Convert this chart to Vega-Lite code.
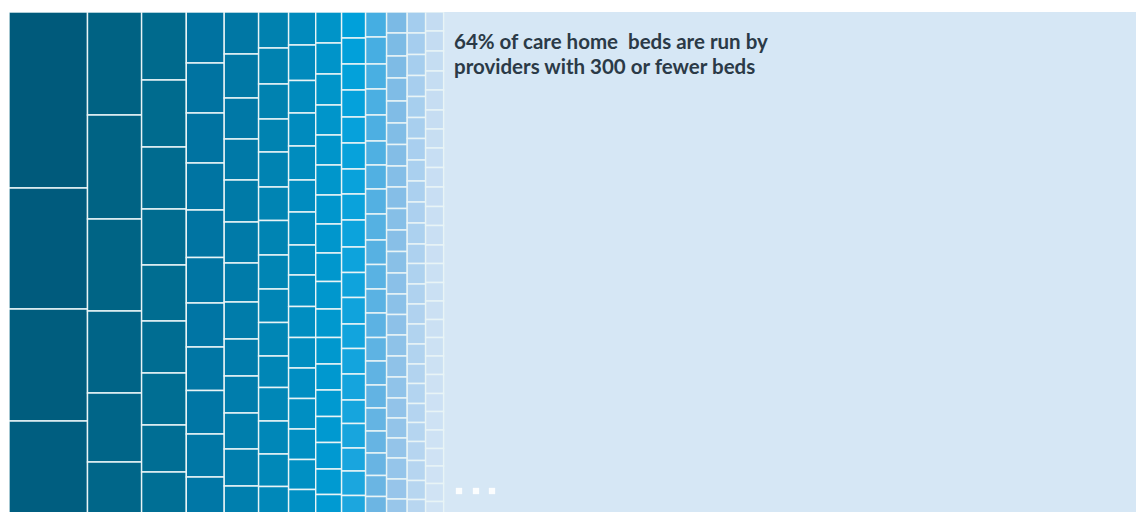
{
  "$schema": "https://vega.github.io/schema/vega-lite/v6.json",
  "width": 1136,
  "height": 512,
  "autosize": {"type": "fit", "contains": "padding"},
  "padding": {"left": 9, "top": 12, "right": 0, "bottom": 0},
  "background": "#ffffff",
  "config": {"view": {"stroke": null, "fill": "#d6e7f5"}},
  "datasets": {
    "cols": [
      {"c": 1, "x0": 0, "x1": 78.5},
      {"c": 2, "x0": 78.5, "x1": 132.6},
      {"c": 3, "x0": 132.6, "x1": 177.3},
      {"c": 4, "x0": 177.3, "x1": 215.2},
      {"c": 5, "x0": 215.2, "x1": 249.6},
      {"c": 6, "x0": 249.6, "x1": 279.6},
      {"c": 7, "x0": 279.6, "x1": 306.7},
      {"c": 8, "x0": 306.7, "x1": 332.6},
      {"c": 9, "x0": 332.6, "x1": 356.6},
      {"c": 10, "x0": 356.6, "x1": 377.6},
      {"c": 11, "x0": 377.6, "x1": 398.2},
      {"c": 12, "x0": 398.2, "x1": 416.6},
      {"c": 13, "x0": 416.6, "x1": 434.6}
    ],
    "cells": [
      {"r":1,"c":1,"h":176},{"r":2,"c":1,"h":121},{"r":3,"c":1,"h":112},{"r":4,"c":1,"h":100},
      {"r":5,"c":2,"h":103},{"r":6,"c":2,"h":104},{"r":7,"c":2,"h":92},{"r":8,"c":2,"h":82},{"r":9,"c":2,"h":69},{"r":10,"c":2,"h":60},
      {"r":11,"c":3,"h":68},{"r":12,"c":3,"h":67},{"r":13,"c":3,"h":62},{"r":14,"c":3,"h":56},{"r":15,"c":3,"h":56},{"r":16,"c":3,"h":52},{"r":17,"c":3,"h":52},{"r":18,"c":3,"h":47},{"r":19,"c":3,"h":45},
      {"r":20,"c":4,"h":51},{"r":21,"c":4,"h":50},{"r":22,"c":4,"h":50},{"r":23,"c":4,"h":47},{"r":24,"c":4,"h":47.5},{"r":25,"c":4,"h":45.5},{"r":26,"c":4,"h":44},{"r":27,"c":4,"h":43.5},{"r":28,"c":4,"h":43.5},{"r":29,"c":4,"h":43},{"r":30,"c":4,"h":42},
      {"r":31,"c":5,"h":42},{"r":32,"c":5,"h":44},{"r":33,"c":5,"h":41},{"r":34,"c":5,"h":41},{"r":35,"c":5,"h":42},{"r":36,"c":5,"h":41},{"r":37,"c":5,"h":39},{"r":38,"c":5,"h":37},{"r":39,"c":5,"h":37},{"r":40,"c":5,"h":37},{"r":41,"c":5,"h":36},{"r":42,"c":5,"h":37},{"r":43,"c":5,"h":36},
      {"r":44,"c":6,"h":36},{"r":45,"c":6,"h":36},{"r":46,"c":6,"h":35},{"r":47,"c":6,"h":33},{"r":48,"c":6,"h":35},{"r":49,"c":6,"h":33.5},{"r":50,"c":6,"h":34.5},{"r":51,"c":6,"h":34},{"r":52,"c":6,"h":33.5},{"r":53,"c":6,"h":33.5},{"r":54,"c":6,"h":31.5},{"r":55,"c":6,"h":33.5},{"r":56,"c":6,"h":33},{"r":57,"c":6,"h":32.5},{"r":58,"c":6,"h":32},
      {"r":59,"c":7,"h":33},{"r":60,"c":7,"h":35.5},{"r":61,"c":7,"h":32.5},{"r":62,"c":7,"h":33},{"r":63,"c":7,"h":34},{"r":64,"c":7,"h":32},{"r":65,"c":7,"h":33},{"r":66,"c":7,"h":30},{"r":67,"c":7,"h":31.5},{"r":68,"c":7,"h":31},{"r":69,"c":7,"h":30.5},{"r":70,"c":7,"h":30.5},{"r":71,"c":7,"h":30.5},{"r":72,"c":7,"h":30.5},{"r":73,"c":7,"h":30},{"r":74,"c":7,"h":30},
      {"r":75,"c":8,"h":31},{"r":76,"c":8,"h":31},{"r":77,"c":8,"h":31},{"r":78,"c":8,"h":30},{"r":79,"c":8,"h":30},{"r":80,"c":8,"h":30},{"r":81,"c":8,"h":29},{"r":82,"c":8,"h":29},{"r":83,"c":8,"h":28.5},{"r":84,"c":8,"h":27.5},{"r":85,"c":8,"h":28.5},{"r":86,"c":8,"h":26.5},{"r":87,"c":8,"h":26},{"r":88,"c":8,"h":26.5},{"r":89,"c":8,"h":26},{"r":90,"c":8,"h":26.5},{"r":91,"c":8,"h":25.5},{"r":92,"c":8,"h":26},
      {"r":93,"c":9,"h":26},{"r":94,"c":9,"h":26},{"r":95,"c":9,"h":26},{"r":96,"c":9,"h":27},{"r":97,"c":9,"h":26},{"r":98,"c":9,"h":26},{"r":99,"c":9,"h":25},{"r":100,"c":9,"h":26},{"r":101,"c":9,"h":27},{"r":102,"c":9,"h":25.5},{"r":103,"c":9,"h":25},{"r":104,"c":9,"h":26.5},{"r":105,"c":9,"h":24.5},{"r":106,"c":9,"h":25.5},{"r":107,"c":9,"h":26},{"r":108,"c":9,"h":23.5},{"r":109,"c":9,"h":24.5},{"r":110,"c":9,"h":23},{"r":111,"c":9,"h":24.5},{"r":112,"c":9,"h":24},
      {"r":113,"c":10,"h":25},{"r":114,"c":10,"h":27},{"r":115,"c":10,"h":25},{"r":116,"c":10,"h":26},{"r":117,"c":10,"h":26},{"r":118,"c":10,"h":24},{"r":119,"c":10,"h":24},{"r":120,"c":10,"h":25},{"r":121,"c":10,"h":26},{"r":122,"c":10,"h":24.5},{"r":123,"c":10,"h":24.5},{"r":124,"c":10,"h":24},{"r":125,"c":10,"h":24.5},{"r":126,"c":10,"h":23.5},{"r":127,"c":10,"h":24},{"r":128,"c":10,"h":23},{"r":129,"c":10,"h":23},{"r":130,"c":10,"h":22},{"r":131,"c":10,"h":22.5},{"r":132,"c":10,"h":21},{"r":133,"c":10,"h":22},
      {"r":134,"c":11,"h":21},{"r":135,"c":11,"h":23},{"r":136,"c":11,"h":22},{"r":137,"c":11,"h":23},{"r":138,"c":11,"h":22},{"r":139,"c":11,"h":21.5},{"r":140,"c":11,"h":21.5},{"r":141,"c":11,"h":21},{"r":142,"c":11,"h":21.5},{"r":143,"c":11,"h":21.5},{"r":144,"c":11,"h":21.5},{"r":145,"c":11,"h":21.5},{"r":146,"c":11,"h":21},{"r":147,"c":11,"h":20.5},{"r":148,"c":11,"h":20.5},{"r":149,"c":11,"h":21},{"r":150,"c":11,"h":21},{"r":151,"c":11,"h":21},{"r":152,"c":11,"h":20},{"r":153,"c":11,"h":20},{"r":154,"c":11,"h":20},{"r":155,"c":11,"h":21},{"r":156,"c":11,"h":20},{"r":157,"c":11,"h":20},
      {"r":158,"c":12,"h":21},{"r":159,"c":12,"h":21.5},{"r":160,"c":12,"h":21},{"r":161,"c":12,"h":21},{"r":162,"c":12,"h":21},{"r":163,"c":12,"h":21},{"r":164,"c":12,"h":21.5},{"r":165,"c":12,"h":21},{"r":166,"c":12,"h":21},{"r":167,"c":12,"h":21},{"r":168,"c":12,"h":21},{"r":169,"c":12,"h":19.5},{"r":170,"c":12,"h":20.5},{"r":171,"c":12,"h":20},{"r":172,"c":12,"h":20},{"r":173,"c":12,"h":20},{"r":174,"c":12,"h":20},{"r":175,"c":12,"h":19.5},{"r":176,"c":12,"h":20},{"r":177,"c":12,"h":19},{"r":178,"c":12,"h":19},{"r":179,"c":12,"h":19},{"r":180,"c":12,"h":20},{"r":181,"c":12,"h":19},{"r":182,"c":12,"h":19},
      {"r":183,"c":13,"h":19},{"r":184,"c":13,"h":20},{"r":185,"c":13,"h":20},{"r":186,"c":13,"h":19},{"r":187,"c":13,"h":20},{"r":188,"c":13,"h":19},{"r":189,"c":13,"h":19},{"r":190,"c":13,"h":19.5},{"r":191,"c":13,"h":19.5},{"r":192,"c":13,"h":19.5},{"r":193,"c":13,"h":19},{"r":194,"c":13,"h":19.5},{"r":195,"c":13,"h":18.5},{"r":196,"c":13,"h":19},{"r":197,"c":13,"h":18.5},{"r":198,"c":13,"h":18.5},{"r":199,"c":13,"h":18},{"r":200,"c":13,"h":18.5},{"r":201,"c":13,"h":18.5},{"r":202,"c":13,"h":19},{"r":203,"c":13,"h":18},{"r":204,"c":13,"h":18.5},{"r":205,"c":13,"h":18.5},{"r":206,"c":13,"h":17.5},{"r":207,"c":13,"h":17.5},{"r":208,"c":13,"h":18},{"r":209,"c":13,"h":18}
    ],
    "note": [{"x": 445, "y": 37}],
    "dots": [{"x": 450, "y": 479}, {"x": 467, "y": 479}, {"x": 483, "y": 479}]
  },
  "layer": [
    {
      "data": {"name": "cells"},
      "transform": [
        {"lookup": "c", "from": {"data": {"name": "cols"}, "key": "c", "fields": ["x0", "x1"]}},
        {"stack": "h", "groupby": ["c"], "sort": [{"field": "r", "order": "ascending"}], "as": ["y0", "y1"]}
      ],
      "mark": {"type": "rect", "clip": true, "stroke": "#e8f4f6", "strokeWidth": 1.4},
      "encoding": {
        "x": {"field": "x0", "type": "quantitative", "scale": {"domain": [0, 1127], "nice": false, "zero": false}, "axis": null},
        "x2": {"field": "x1"},
        "y": {"field": "y0", "type": "quantitative", "scale": {"domain": [0, 500], "nice": false, "zero": false, "reverse": true}, "axis": null},
        "y2": {"field": "y1"},
        "color": {
          "field": "r", "type": "quantitative", "legend": null,
          "scale": {
            "type": "linear",
            "interpolate": "rgb",
            "domain": [1, 4, 5, 10, 11, 19, 20, 30, 31, 43, 44, 58, 59, 74, 75, 92, 93, 112, 113, 133, 134, 157, 158, 182, 183, 209],
            "range": ["#005a7b", "#005e80", "#006283", "#006689", "#006a8d", "#006f95", "#0072a0", "#0077a6", "#0077a4", "#007fae", "#0081af", "#0088b9", "#008abc", "#0090c4", "#0094c8", "#009ad2", "#00a0da", "#1ca6de", "#45aee2", "#6cb5e3", "#7bbae5", "#98c6ea", "#a4cdee", "#b8d6f0", "#c4dcf2", "#d0e3f4"]
          }
        }
      }
    },
    {
      "data": {"name": "note"},
      "mark": {
        "type": "text",
        "align": "left",
        "baseline": "alphabetic",
        "font": "Lato",
        "fontWeight": "bold",
        "fontSize": 20.5,
        "lineHeight": 25,
        "color": "#2b3a47",
        "text": ["64% of care home\u00a0 beds are run by", "providers with 300 or fewer beds"]
      },
      "encoding": {
        "x": {"field": "x", "type": "quantitative"},
        "y": {"field": "y", "type": "quantitative"}
      }
    },
    {
      "data": {"name": "dots"},
      "mark": {"type": "point", "shape": "square", "filled": true, "size": 40, "color": "#ffffff", "opacity": 0.9},
      "encoding": {
        "x": {"field": "x", "type": "quantitative"},
        "y": {"field": "y", "type": "quantitative"}
      }
    }
  ]
}
